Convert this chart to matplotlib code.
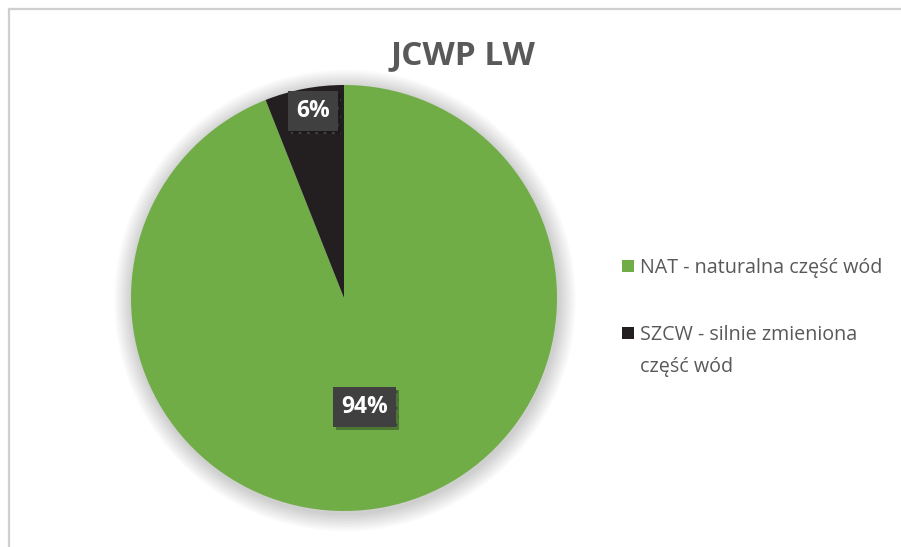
import numpy as np
import matplotlib
matplotlib.use("Agg")
import matplotlib.pyplot as plt
from matplotlib.lines import Line2D
from matplotlib.patches import Circle
import matplotlib.patheffects as pe

plt.rcParams['font.family'] = ['Open Sans', 'DejaVu Sans']
plt.rcParams['hatch.color'] = '#575757'
plt.rcParams['hatch.linewidth'] = 1.0

title = "JCWP LW"
labels = ["NAT - naturalna część wód", "SZCW - silnie zmieniona\nczęść wód"]
shares = [94, 6]
colors = ["#70AD47", "#231F20"]

W, H = 901, 547
fig = plt.figure(figsize=(W / 100, H / 100), dpi=100)
fig.patch.set_facecolor("white")

# frame of the chart area (only left and top edges visible)
fig.add_artist(Line2D([9 / W, 9 / W], [0, 1 - 9 / H], color="#cfcfcf", lw=1.6))
fig.add_artist(Line2D([9 / W, 1], [1 - 9 / H, 1 - 9 / H], color="#cfcfcf", lw=1.6))

# pie axes: centre (344, 298), radius 213 px
cx, cy, r = 344, 298, 213
ax = fig.add_axes([(cx - r) / W, (H - cy - r) / H, 2 * r / W, 2 * r / H])
ax.axis("off")

wedges, _ = ax.pie(shares, colors=colors, startangle=90, counterclock=False,
                   radius=1, wedgeprops=dict(linewidth=0))
ax.set_xlim(-1, 1)
ax.set_ylim(-1, 1)
ax.set_aspect("equal")
for w in wedges:
    w.set_zorder(2)

# soft shadow around the pie
for k in range(12):
    ax.add_patch(Circle((0.005, -0.012), 1 + 0.007 * (k + 1), color="black",
                        alpha=0.014, lw=0, clip_on=False, zorder=0))

dist = {0: 0.52, 1: 0.89}
for i, w in enumerate(wedges):
    ang = np.deg2rad((w.theta1 + w.theta2) / 2 - (1.5 if i == 1 else 0))
    t = ax.text(dist[i] * np.cos(ang), dist[i] * np.sin(ang), f"{shares[i]}%",
                ha="center", va="center", color="white", fontsize=16.5,
                fontweight="bold", zorder=5,
                bbox=dict(boxstyle="square,pad=0.35", facecolor="#404040",
                          edgecolor="#404040", hatch="..", linewidth=0))
    t.get_bbox_patch().set_path_effects(
        [pe.SimplePatchShadow(offset=(2, -2), alpha=0.35), pe.Normal()])

fig.text(463 / W, 1 - 56 / H, title, ha="center", va="center", fontsize=24,
         fontweight="bold", color="#595959")

# legend: first line of each label beside the marker, wrapped rest below it
first_lines = [lab.split("\n")[0] for lab in labels]
leg = fig.legend(wedges, first_lines, loc="upper left", bbox_to_anchor=(604 / W, 1 - 240 / H),
                 frameon=False, fontsize=14.2, labelcolor="#595959", handlelength=0.6,
                 handleheight=0.6, handletextpad=0.3, labelspacing=2.4)
fig.canvas.draw()
renderer = fig.canvas.get_renderer()
for lab, txt in zip(labels, leg.get_texts()):
    rest = lab.split("\n")[1:]
    if not rest:
        continue
    bb = txt.get_window_extent(renderer)
    fig.text(bb.x0 / W, (bb.y0 - 32) / H, "\n".join(rest), ha="left", va="bottom",
             fontsize=14.2, color="#595959")

fig.savefig("out.png", dpi=100)
